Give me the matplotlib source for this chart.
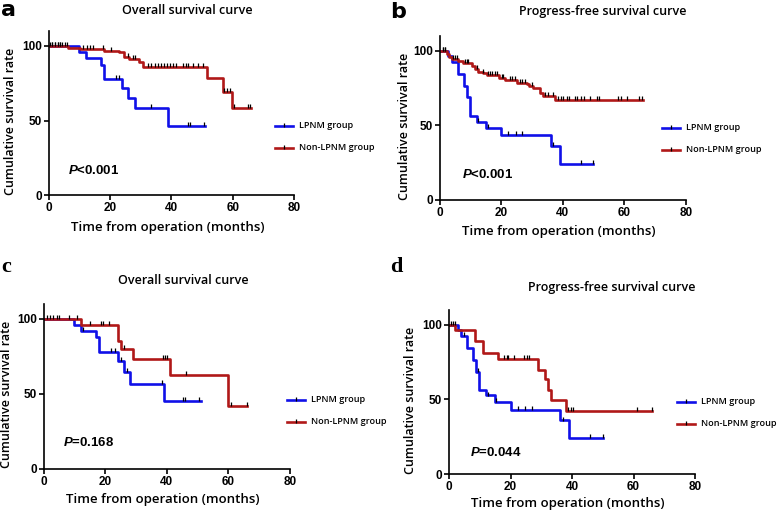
import numpy as np
import matplotlib.pyplot as plt
from matplotlib.lines import Line2D

BLUE = '#1010E8'
RED = '#B01818'
LABEL_FONT = 'Open Sans'

# ---- data ----
# panel a: overall survival, whole cohort
a_lpnm_t = [0, 10, 12, 17, 18, 24, 26, 28, 39, 51]
a_lpnm_s = [100, 95.8, 91.7, 87.5, 77.8, 72.0, 65.3, 58.3, 46.6, 46.6]
a_lpnm_cens = [1.2, 2.0, 2.9, 3.7, 22.1, 22.9, 33.2, 45.3, 46.2, 50.5]
a_non_t = [0, 6.4, 10.2, 18, 22.9, 24.7, 26.1, 29.3, 30.9, 51.6, 56.8, 59.7, 66]
a_non_s = [100, 98.9, 98.0, 96.9, 95.8, 92.9, 91.3, 89.5, 86.1, 78.4, 69.4, 58.3, 58.3]
a_non_cens = [0.4, 1.2, 2.0, 2.9, 3.7, 4.4, 5.3, 6.0, 11.3, 12.4, 13.5, 14.6, 17.8,
              20.4, 25.8, 27.5, 28.3, 32.5, 33.5, 34.5, 35.5, 36.5, 37.5, 38.5,
              39.6, 40.6, 41.6, 43.7, 44.7, 45.5, 47.0, 48.6, 50.3, 57.3, 58.1,
              59.0, 60.3, 64.9, 65.8]

# panel b: progression-free survival, whole cohort
b_lpnm_t = [0, 2.8, 3.9, 6.0, 7.9, 8.9, 9.9, 12.0, 15.0, 19.8, 36.1, 39.0, 50]
b_lpnm_s = [100, 96.5, 92.6, 84.5, 76.5, 68.8, 56.4, 52.5, 48.2, 43.6, 36.2, 24.4, 24.4]
b_lpnm_cens = [1.0, 1.7, 12.6, 15.8, 22.3, 24.7, 26.9, 37.0, 46.0, 50.0]
b_non_t = [0, 2.3, 3.1, 3.9, 5.9, 7.7, 10.4, 11.5, 12.6, 14.0, 15.3, 19.3, 21.2,
           25.0, 28.3, 29.1, 30.5, 32.5, 33.5, 37.5, 66]
b_non_s = [100, 97.8, 95.5, 94.2, 93.3, 91.5, 89.7, 87.5, 85.9, 84.8, 83.7, 81.5,
           80.1, 78.6, 77.5, 76.3, 75.0, 71.5, 69.5, 66.7, 66.7]
b_non_cens = [1.2, 1.7, 4.4, 5.0, 5.5, 8.2, 8.8, 9.3, 12.0, 14.2, 15.8, 16.4, 16.9,
              18.0, 18.5, 20.2, 20.7, 22.9, 23.6, 24.5, 26.1, 26.9, 27.8, 30.0,
              34.2, 35.3, 36.9, 38.6, 39.4, 40.2, 41.3, 42.1, 44.0, 44.7, 45.9,
              46.9, 48.9, 51.0, 51.9, 58.1, 58.9, 60.8, 64.9, 65.7]

# panel c: overall survival, matched cohort
c_lpnm_t = [0, 10, 12, 17, 18, 24, 26, 28, 39, 51]
c_lpnm_s = [100, 95.8, 92.2, 87.8, 77.9, 72.0, 64.9, 56.7, 45.5, 45.5]
c_lpnm_cens = [1.0, 2.0, 3.1, 4.2, 5.1, 12.9, 22.0, 23.1, 25.1, 27.1, 38.3, 45.3, 45.9, 50.5]
c_non_t = [0, 12.2, 24.1, 25.0, 29.0, 41.0, 59.9, 66]
c_non_s = [100, 96.0, 85.6, 80.0, 73.2, 62.8, 41.8, 41.8]
c_non_cens = [8.3, 10.9, 15.0, 18.6, 19.4, 21.3, 26.0, 38.6, 39.4, 40.1, 46.1, 61.0, 65.9]

# panel d: progression-free survival, matched cohort
d_lpnm_t = [0, 2.8, 3.9, 6.0, 7.9, 8.8, 9.7, 11.9, 15.0, 20.0, 36.1, 39.0, 50]
d_lpnm_s = [100, 96.3, 92.7, 84.4, 76.6, 68.6, 56.5, 52.7, 48.4, 43.1, 35.9, 24.0, 24.0]
d_lpnm_cens = [1.4, 2.0, 5.0, 9.3, 12.6, 15.3, 22.3, 24.7, 27.1, 37.0, 46.0, 50.0]
d_non_t = [0, 1.8, 8.3, 11.1, 16.0, 29.0, 31.2, 32.1, 33.1, 38.0, 66]
d_non_s = [100, 96.4, 89.0, 81.4, 77.4, 70.0, 63.8, 56.6, 49.5, 42.3, 42.3]
d_non_cens = [0.7, 17.8, 18.8, 19.3, 21.2, 24.5, 25.3, 26.0, 38.8, 39.7, 40.4, 61.0, 65.9]

titles = ['Overall survival curve', 'Progress-free survival curve',
          'Overall survival curve', 'Progress-free survival curve']
p_texts = ['<0.001', '<0.001', '=0.168', '=0.044']
panel_letters = ['a', 'b', 'c', 'd']
groups = ['LPNM group', 'Non-LPNM group']

plt.rcParams['mathtext.fontset'] = 'custom'
plt.rcParams['mathtext.bfit'] = 'Liberation Sans:bold:italic'

fig = plt.figure(figsize=(7.77, 5.12), dpi=100)

# axes rectangles in figure fractions
rects = [[0.0627, 0.6185, 0.3157, 0.3210],
         [0.5659, 0.6094, 0.3166, 0.3209],
         [0.0562, 0.0840, 0.3170, 0.3223],
         [0.5779, 0.0742, 0.3166, 0.3203]]


def step_at(t_list, s_list, t):
    i = np.searchsorted(t_list, t, side='right') - 1
    return s_list[max(i, 0)]


def draw_curve(ax, t, s, cens, color):
    ax.step(t, s, where='post', color=color, lw=1.9, zorder=2)
    cy = [step_at(t, s, c) + 1.3 for c in cens]
    ax.plot(cens, cy, ls='none', marker='|', ms=3.5, mew=0.9, color='black', zorder=3)


panels = [
    (a_lpnm_t, a_lpnm_s, a_lpnm_cens, a_non_t, a_non_s, a_non_cens),
    (b_lpnm_t, b_lpnm_s, b_lpnm_cens, b_non_t, b_non_s, b_non_cens),
    (c_lpnm_t, c_lpnm_s, c_lpnm_cens, c_non_t, c_non_s, c_non_cens),
    (d_lpnm_t, d_lpnm_s, d_lpnm_cens, d_non_t, d_non_s, d_non_cens),
]

# layout of extra text (figure pixels, y from top)
title_xy = [(187, 10), (603, 11), (183, 281), (612, 287)]
letter_xy = [(1, 10), (390, 12), (1, 267), (390, 267)]
ylab_x = [11, 405, 7, 410]
xlab_y = [228, 231, 499, 504]
p_xy = [(68, 171), (462, 175), (63, 443), (470, 453)]
leg_xy = [(275, 126), (662, 128), (287, 400), (677, 402)]

W, H = 777, 512
for k, (lt, ls, lc, nt, ns, nc) in enumerate(panels):
    ax = fig.add_axes(rects[k])
    draw_curve(ax, lt, ls, lc, BLUE)
    draw_curve(ax, nt, ns, nc, RED)
    ax.set_xlim(0, 80)
    ax.set_ylim(0, 110)
    ax.set_xticks([0, 20, 40, 60, 80])
    ax.set_yticks([0, 50, 100])
    for sp in ['top', 'right']:
        ax.spines[sp].set_visible(False)
    for sp in ['left', 'bottom']:
        ax.spines[sp].set_linewidth(1.2)
    ax.tick_params(direction='out', length=3.5, width=1.2, pad=1.5, labelsize=8.5)
    for lab in ax.get_xticklabels() + ax.get_yticklabels():
        lab.set_family('Liberation Sans')
        lab.set_fontweight('bold')

    # title / labels
    tx, ty = title_xy[k]
    fig.text(tx / W, 1 - ty / H, titles[k], ha='center', va='center',
             family=LABEL_FONT, fontweight='semibold', fontstretch='normal', fontsize=9)
    lx, ly = letter_xy[k]
    if k < 2:
        fig.text(lx / W, 1 - ly / H, panel_letters[k], ha='left', va='center',
                 family='DejaVu Sans', fontweight='bold', fontsize=16)
    else:
        fig.text(lx / W, 1 - ly / H, panel_letters[k], ha='left', va='center',
                 family='Liberation Serif', fontweight='bold', fontsize=16)
    pos = ax.get_position()
    fig.text(ylab_x[k] / W, pos.y0 + pos.height * 0.45, 'Cumulative survival rate',
             rotation=90, ha='center', va='center', family=LABEL_FONT,
             fontweight='semibold', fontstretch='normal', fontsize=9)
    fig.text(pos.x0 + pos.width * 0.5 - 0.005, 1 - xlab_y[k] / H,
             'Time from operation (months)', ha='center', va='center',
             family=LABEL_FONT, fontweight='semibold', fontstretch='normal', fontsize=9.5)
    px, py = p_xy[k]
    fig.text(px / W, 1 - py / H, '$\\mathbfit{P}$' + p_texts[k], ha='left', va='center',
             family='Liberation Sans', fontweight='bold', fontsize=9.5)

    # legend
    gx, gy = leg_xy[k]
    for j, (g, col) in enumerate(zip(groups, [BLUE, RED])):
        yy = 1 - (gy + 22 * j) / H
        fig.add_artist(Line2D([gx / W, (gx + 18) / W], [yy, yy], color=col, lw=1.9))
        fig.add_artist(Line2D([(gx + 9) / W], [yy + 1.5 / H], color='black', ls='none',
                              marker='|', ms=3.5, mew=0.9))
        fig.text((gx + 24) / W, yy, g, ha='left', va='center', family=LABEL_FONT,
                 fontweight='semibold', fontstretch='normal', fontsize=6.5)

fig.savefig('out.png', dpi=100)
